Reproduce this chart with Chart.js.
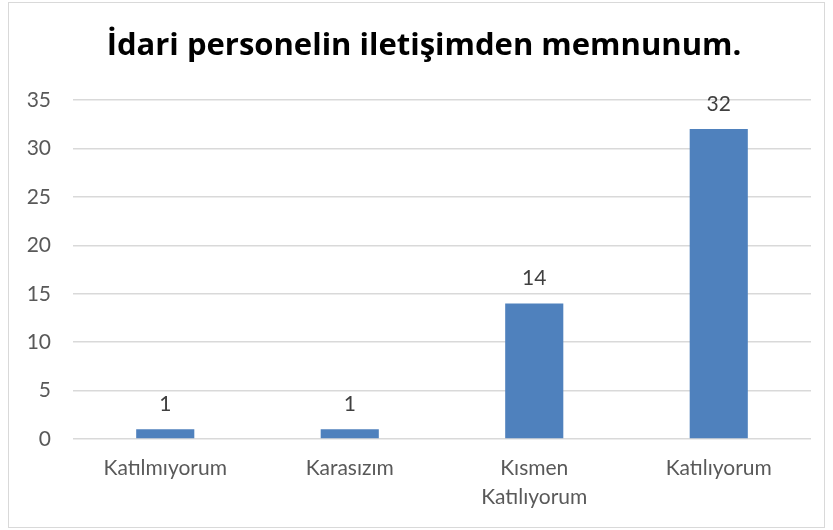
<!DOCTYPE html>
<html>
<head>
<meta charset="utf-8">
<script src="https://cdn.jsdelivr.net/npm/chart.js@4"></script>
<style>
  html, body { margin: 0; padding: 0; background: #fff; }
  #wrap { position: relative; width: 833px; height: 530px; }
  #frame { position: absolute; left: 8px; top: 2px; width: 817px; height: 526px; border: 1px solid #d9d9d9; box-sizing: border-box; pointer-events: none; }
</style>
</head>
<body>
<div id="wrap">
  <canvas id="chart" width="833" height="530"></canvas>
  <div id="frame"></div>
</div>
<script>
// chart data
const title = 'İdari personelin iletişimden memnunum.';
const categories = ['Katılmıyorum', 'Karasızım', ['Kısmen', 'Katılıyorum'], 'Katılıyorum'];
const counts = [1, 1, 14, 32];
const yTicks = [0, 5, 10, 15, 20, 25, 30, 35];

const FONT = 'Lato, "Open Sans", sans-serif';

// value labels above the bars
const barLabels = {
  id: 'barLabels',
  afterDatasetsDraw(chart) {
    const ctx = chart.ctx;
    const meta = chart.getDatasetMeta(0);
    ctx.save();
    ctx.font = '21px ' + FONT;
    ctx.fillStyle = '#404040';
    ctx.textAlign = 'center';
    ctx.textBaseline = 'middle';
    meta.data.forEach((bar, i) => {
      ctx.fillText(String(counts[i]), bar.x, bar.y - 25);
    });
    ctx.restore();
  }
};

// title centred on the frame, not on the canvas
const frameTitle = {
  id: 'frameTitle',
  afterDraw(chart) {
    const ctx = chart.ctx;
    ctx.save();
    ctx.font = 'bold 31px "Open Sans", sans-serif';
    ctx.fillStyle = '#000';
    ctx.textAlign = 'center';
    ctx.textBaseline = 'middle';
    ctx.fillText(title, 424, 46);
    ctx.restore();
  }
};

new Chart(document.getElementById('chart'), {
  type: 'bar',
  data: {
    labels: categories,
    datasets: [{
      data: counts,
      backgroundColor: '#4f81bd',
      categoryPercentage: 1,
      barPercentage: 0.315
    }]
  },
  options: {
    responsive: false,
    animation: false,
    layout: { padding: { left: 10, right: 22, top: 100, bottom: 3 } },
    plugins: {
      legend: { display: false },
      tooltip: { enabled: false },
      title: { display: false }
    },
    scales: {
      x: {
        grid: { display: false, drawTicks: false },
        border: { display: false },
        ticks: {
          color: '#595959',
          font: { family: FONT, size: 21, lineHeight: 1.38 },
          maxRotation: 0,
          autoSkip: false,
          padding: 15
        }
      },
      y: {
        min: 0,
        max: 35,
        afterBuildTicks: s => { s.ticks = yTicks.map(v => ({ value: v })); },
        afterFit: s => { s.width = 63; },
        grid: { color: '#d9d9d9', lineWidth: 1.5, drawTicks: false },
        border: { display: false },
        ticks: {
          color: '#595959',
          font: { family: FONT, size: 21 },
          padding: 22
        }
      }
    }
  },
  plugins: [barLabels, frameTitle]
});
</script>
</body>
</html>
